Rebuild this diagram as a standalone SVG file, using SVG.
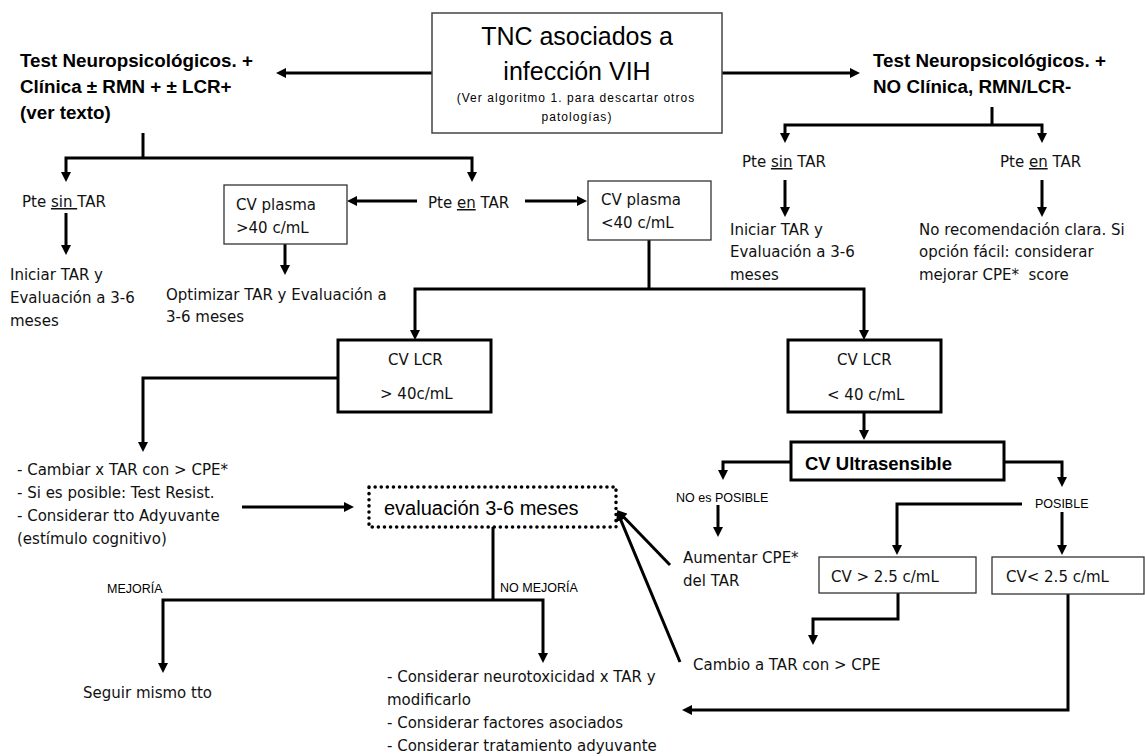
<svg xmlns="http://www.w3.org/2000/svg" width="1145" height="756" viewBox="0 0 1145 756">
<style>
.c{fill:none;stroke:#000;stroke-width:3}
.a{marker-end:url(#ah)}
.t{font-family:"DejaVu Sans",Verdana,sans-serif;font-size:15px;fill:#111}
.h{font-family:"Liberation Sans",Arial,sans-serif;font-size:18.8px;font-weight:bold;fill:#000}
.s{font-family:"Liberation Sans",Arial,sans-serif;font-size:12.5px;fill:#000}
.b1{fill:#fff;stroke:#333;stroke-width:1.3}
.b3{fill:#fff;stroke:#000;stroke-width:3}
.u{text-decoration:underline}
</style>
<defs>
<marker id="ah" viewBox="0 0 10 10" refX="2" refY="5" markerWidth="10" markerHeight="10" markerUnits="userSpaceOnUse" orient="auto">
<path d="M0,0 L10,5 L0,10 z" fill="#000"/>
</marker>
</defs>
<rect width="1145" height="756" fill="#fff"/>

<g id="connectors">
<path class="c a" d="M432,73 H284"/>
<path class="c a" d="M722,73 H852"/>
<path class="c" d="M143,133 V158"/>
<path class="c a" d="M143,158 H66 V174"/>
<path class="c a" d="M143,158 H472 V174"/>
<path class="c a" d="M66,213 V247"/>
<path class="c a" d="M417,201 H355"/>
<path class="c a" d="M525,201 H579"/>
<path class="c a" d="M285,244 V267"/>
<path class="c" d="M649,240 V289"/>
<path class="c a" d="M649,289 H415 V332"/>
<path class="c a" d="M649,289 H864 V332"/>
<path class="c a" d="M338,378 H143 V444"/>
<path class="c a" d="M242,507 H346"/>
<path class="c a" d="M864,412 V432"/>
<path class="c a" d="M791,462 H723 V472"/>
<path class="c a" d="M1004,462 H1062 V479"/>
<path class="c a" d="M718,505 V529"/>
<path class="c a" d="M1022,504 H897 V547"/>
<path class="c a" d="M1062,512 V547"/>
<path class="c a" d="M898,593 V619 H813 V637"/>
<path class="c a" d="M1068,594 V710 H690"/>
<path class="c a" d="M670,565 L622.5,515.8"/>
<path class="c a" d="M680,662 L620.1,518.4"/>
<path class="c" d="M493,527 V600"/>
<path class="c a" d="M493,600 H163 V665"/>
<path class="c a" d="M493,600 H543 V655"/>
<path class="c" d="M992,107 V125"/>
<path class="c a" d="M992,125 H785 V135"/>
<path class="c a" d="M992,125 H1042 V135"/>
<path class="c a" d="M785,180 V209"/>
<path class="c a" d="M1042,180 V209"/>
</g>

<g id="main">
<rect x="432" y="13" width="290" height="120" fill="#fff" stroke="#444" stroke-width="1.5"/>
<text x="577" y="45" text-anchor="middle" font-family="Liberation Sans, Arial, sans-serif" font-size="25">TNC asociados a</text>
<text x="577" y="80" text-anchor="middle" font-family="Liberation Sans, Arial, sans-serif" font-size="25">infección VIH</text>
<text x="576" y="102" text-anchor="middle" font-family="Liberation Sans, Arial, sans-serif" font-size="12" letter-spacing="1.05">(Ver algoritmo 1. para descartar otros</text>
<text x="577" y="121" text-anchor="middle" font-family="Liberation Sans, Arial, sans-serif" font-size="12" letter-spacing="1.05">patologías)</text>
</g>

<g id="left-criteria">
<text class="h" x="20" y="67">Test Neuropsicológicos. +</text>
<text class="h" x="20" y="93">Clínica ± RMN + ± LCR+</text>
<text class="h" x="20" y="119">(ver texto)</text>
</g>

<g id="right-criteria">
<text class="h" x="873" y="67">Test Neuropsicológicos. +</text>
<text class="h" x="873" y="93">NO Clínica, RMN/LCR-</text>
</g>

<g id="left-sin-tar">
<text class="t" x="22" y="207">Pte <tspan class="u">sin </tspan>TAR</text>
</g>
<g id="left-iniciar">
<text class="t" x="10" y="280">Iniciar TAR y</text>
<text class="t" x="10" y="303">Evaluación a 3-6</text>
<text class="t" x="10" y="326">meses</text>
</g>

<g id="left-en-tar">
<text class="t" x="428" y="208">Pte <tspan class="u">en</tspan> TAR</text>
</g>

<g id="cv-plasma-high">
<rect class="b1" x="224" y="185" width="123" height="59"/>
<text class="t" x="236" y="210">CV plasma</text>
<text class="t" x="236" y="233">&gt;40 c/mL</text>
</g>
<g id="optimizar">
<text class="t" x="166" y="300">Optimizar TAR y Evaluación a</text>
<text class="t" x="166" y="322">3-6 meses</text>
</g>

<g id="cv-plasma-low">
<rect class="b1" x="588" y="181" width="123" height="59"/>
<text class="t" x="601" y="205">CV plasma</text>
<text class="t" x="601" y="228">&lt;40 c/mL</text>
</g>

<g id="right-sin-tar">
<text class="t" x="742" y="167">Pte <tspan class="u">sin</tspan> TAR</text>
</g>
<g id="right-en-tar">
<text class="t" x="1000" y="167">Pte <tspan class="u">en</tspan> TAR</text>
</g>
<g id="right-iniciar">
<text class="t" x="730" y="235">Iniciar TAR y</text>
<text class="t" x="730" y="257">Evaluación a 3-6</text>
<text class="t" x="730" y="280">meses</text>
</g>
<g id="no-recomendacion">
<text class="t" x="919" y="235">No recomendación clara. Si</text>
<text class="t" x="919" y="257">opción fácil: considerar</text>
<text class="t" x="919" y="280">mejorar CPE*&#160; score</text>
</g>

<g id="cv-lcr-high">
<rect class="b3" x="338" y="340" width="153" height="72"/>
<text class="t" x="388" y="365">CV LCR</text>
<text class="t" x="380" y="399">&gt; 40c/mL</text>
</g>

<g id="cv-lcr-low">
<rect class="b3" x="788" y="340" width="153" height="72"/>
<text class="t" x="837" y="365">CV LCR</text>
<text class="t" x="827" y="400">&lt; 40 c/mL</text>
</g>

<g id="cambiar">
<text class="t" x="17" y="475">- Cambiar x TAR con &gt; CPE*</text>
<text class="t" x="17" y="498">- Si es posible: Test Resist.</text>
<text class="t" x="17" y="521">- Considerar tto Adyuvante</text>
<text class="t" x="17" y="544">(estímulo cognitivo)</text>
</g>

<g id="evaluacion">
<rect x="369" y="487" width="247" height="40" fill="#fff" stroke="#000" stroke-width="3.5" stroke-dasharray="0.1 6" stroke-linecap="round"/>
<text x="384" y="515" font-family="Liberation Sans, Arial, sans-serif" font-size="20">evaluación 3-6 meses</text>
</g>

<g id="cv-ultrasensible">
<rect class="b3" x="791" y="442" width="213" height="38"/>
<text x="805" y="470" font-family="Liberation Sans, Arial, sans-serif" font-size="18.5" font-weight="bold">CV Ultrasensible</text>
</g>

<g id="no-posible">
<text class="s" x="676" y="502">NO es POSIBLE</text>
</g>
<g id="posible">
<text class="s" x="1035" y="508" font-size="12">POSIBLE</text>
</g>
<g id="aumentar">
<text class="t" x="683" y="563">Aumentar CPE*</text>
<text class="t" x="683" y="586">del TAR</text>
</g>

<g id="cv-gt-25">
<rect class="b1" x="819" y="557" width="157" height="36"/>
<text class="t" x="831" y="582">CV &gt; 2.5 c/mL</text>
</g>
<g id="cv-lt-25">
<rect class="b1" x="992" y="557" width="152" height="37"/>
<text class="t" x="1006" y="582">CV&lt; 2.5 c/mL</text>
</g>

<g id="cambio">
<text class="t" x="693" y="670">Cambio a TAR con &gt; CPE</text>
</g>

<g id="mejoria">
<text class="s" x="107" y="593">MEJORÍA</text>
</g>
<g id="no-mejoria">
<text class="s" x="500" y="592">NO MEJORÍA</text>
</g>
<g id="seguir">
<text class="t" x="83" y="698">Seguir mismo tto</text>
</g>
<g id="considerar">
<text class="t" x="387" y="682">- Considerar neurotoxicidad x TAR y</text>
<text class="t" x="387" y="705">modificarlo</text>
<text class="t" x="387" y="728">- Considerar factores asociados</text>
<text class="t" x="387" y="751">- Considerar tratamiento adyuvante</text>
</g>
</svg>
